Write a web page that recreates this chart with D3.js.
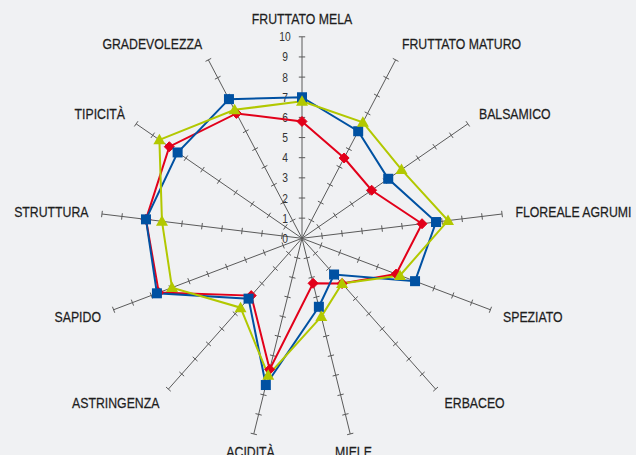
<!DOCTYPE html>
<html>
<head>
<meta charset="utf-8">
<script src="https://cdn.jsdelivr.net/npm/d3@7"></script>
<style>
  html, body { margin: 0; padding: 0; background: #f0f1f3; }
  svg { display: block; }
  .lbl { font-family: "Liberation Sans", Arial, sans-serif; font-size: 15px; fill: #1e1e1e; stroke: #1e1e1e; stroke-width: 0.25px; }
  .tick-lbl { font-family: "Liberation Sans", Arial, sans-serif; font-size: 12.5px; fill: #333; }
</style>
</head>
<body>
<div id="chart"></div>
<script>
// axis names, clockwise from the top
var categories = ["FRUTTATO MELA", "FRUTTATO MATURO", "BALSAMICO", "FLOREALE AGRUMI", "SPEZIATO",
    "ERBACEO", "MIELE", "ACIDITÀ", "ASTRINGENZA", "SAPIDO", "STRUTTURA", "TIPICITÀ", "GRADEVOLEZZA"];
var tickValues = [0, 1, 2, 3, 4, 5, 6, 7, 8, 9, 10];

// the three profiles
var redValues   = [5.8, 4.5, 4.2, 6.0, 5.0, 3.0, 2.3, 6.7, 3.8, 7.6, 7.8, 8.0, 7.0];
var blueValues  = [7.0, 6.0, 5.2, 6.7, 6.0, 2.4, 3.5, 7.5, 4.0, 7.7, 7.8, 7.5, 7.8];
var greenValues = [6.8, 6.5, 6.0, 7.3, 5.2, 3.0, 4.0, 7.0, 4.6, 6.9, 7.0, 8.6, 7.2];

const width = 636, height = 455;
const cx = 302, cy = 238.3, radius = 201.5;
const narrow = 0.82; // condensed look for the labels

const svg = d3.select("#chart").append("svg")
    .attr("width", width)
    .attr("height", height);

svg.append("rect").attr("width", width).attr("height", height).attr("fill", "#f0f1f3");

const r = d3.scaleLinear().domain([0, 10]).range([0, radius]);
// n points spread over the full circle
const angle = d3.scalePoint().domain(categories)
    .range([0, 2 * Math.PI * (categories.length - 1) / categories.length]);

function pos(cat, v) {
    const a = angle(cat);
    return [cx + r(v) * Math.sin(a), cy - r(v) * Math.cos(a)];
}

const g = svg.append("g");

// axes with small ticks
categories.forEach(function (c) {
    const a = angle(c);
    const end = pos(c, 10);
    g.append("line")
        .attr("x1", cx).attr("y1", cy)
        .attr("x2", end[0]).attr("y2", end[1])
        .attr("stroke", "#5a5a5a").attr("stroke-width", 1);
    tickValues.slice(1).forEach(function (t) {
        const p = pos(c, t);
        const nx = Math.cos(a) * 3.2, ny = Math.sin(a) * 3.2;
        g.append("line")
            .attr("x1", p[0] - nx).attr("y1", p[1] - ny)
            .attr("x2", p[0] + nx).attr("y2", p[1] + ny)
            .attr("stroke", "#5a5a5a").attr("stroke-width", 1);
    });
});

// value labels on the first axis
g.selectAll(".tick-lbl").data(tickValues).enter()
    .append("text")
    .attr("class", "tick-lbl")
    .attr("transform", d => `translate(${cx - 17},${cy - r(d)}) scale(${narrow},1)`)
    .attr("dy", "0.36em")
    .attr("text-anchor", "middle")
    .text(d => d);

// category labels
categories.forEach(function (c) {
    const a = angle(c);
    const p = pos(c, 10.67);
    const s = Math.sin(a);
    let anchor = "middle";
    if (s > 0.3) anchor = "start";
    else if (s < -0.3) anchor = "end";
    g.append("text")
        .attr("class", "lbl")
        .attr("transform", `translate(${p[0]},${p[1] - Math.cos(a) * 4.5}) scale(${narrow},1)`)
        .attr("dy", "0.36em")
        .attr("text-anchor", anchor)
        .text(c);
});

const series = [
    {name: "red", values: redValues, color: "#e2001a", symbol: "diamond"},
    {name: "blue", values: blueValues, color: "#0051a2", symbol: "square"},
    {name: "green", values: greenValues, color: "#b2c800", symbol: "triangle"}
];

const line = d3.line().curve(d3.curveLinearClosed);

series.forEach(function (s) {
    const pts = categories.map((c, i) => pos(c, s.values[i]));
    g.append("path")
        .attr("d", line(pts))
        .attr("fill", "none")
        .attr("stroke", s.color)
        .attr("stroke-width", 2);
});

series.forEach(function (s) {
    const pts = categories.map((c, i) => pos(c, s.values[i]));
    const sel = g.selectAll(".m-" + s.name).data(pts).enter();
    if (s.symbol === "square") {
        sel.append("rect")
            .attr("x", d => d[0] - 5).attr("y", d => d[1] - 5)
            .attr("width", 10).attr("height", 10)
            .attr("fill", s.color);
    } else if (s.symbol === "diamond") {
        sel.append("path")
            .attr("d", d => `M${d[0]},${d[1] - 5}L${d[0] + 5},${d[1]}L${d[0]},${d[1] + 5}L${d[0] - 5},${d[1]}Z`)
            .attr("fill", s.color)
            .attr("stroke", s.color).attr("stroke-width", 1).attr("stroke-linejoin", "round");
    } else {
        sel.append("path")
            .attr("d", d => `M${d[0]},${d[1] - 6}L${d[0] + 6},${d[1] + 4.5}L${d[0] - 6},${d[1] + 4.5}Z`)
            .attr("fill", s.color);
    }
});
</script>
</body>
</html>
